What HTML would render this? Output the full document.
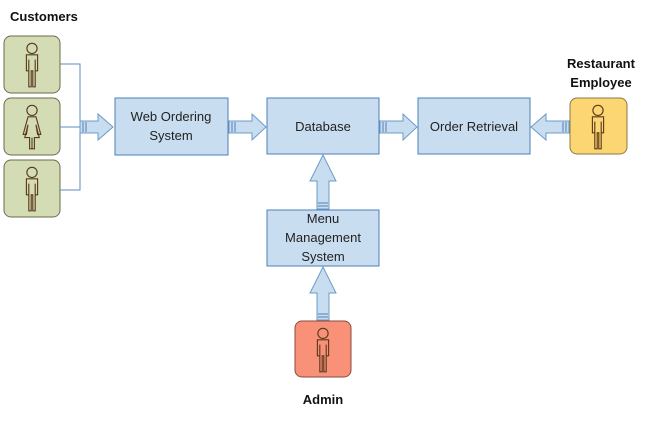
<!DOCTYPE html>
<html><head><style>body{margin:0;background:#fff}</style></head><body>
<svg width="667" height="422" viewBox="0 0 667 422" xmlns="http://www.w3.org/2000/svg" style="font-family:'Liberation Sans',sans-serif">
<defs>
<g id="man" fill="none" stroke="#5a3a1a" stroke-width="0.7">
<circle cx="0" cy="-11" r="3.2"/>
<path d="M-3.5,-7 h7 v10 h-1.5 v-7 v17 h-1.5 v-10 h-1 v10 h-1.5 v-17 v7 h-1.5 z"/>
</g>
<g id="woman" fill="none" stroke="#5a3a1a" stroke-width="0.7">
<circle cx="0" cy="-11" r="3.2"/>
<path d="M-2.5,-7 h5 l3,11 h-2 l-1,-6 l2,8 h-3 v7 h-1.5 v-7 h-0 v7 h-1.5 v-7 h-3 l2,-8 l-1,6 h-2 z"/>
</g>
</defs>
<g font-weight="bold" font-size="13" fill="#111">
<text x="10" y="21">Customers</text>
<text x="601" y="68" text-anchor="middle">Restaurant</text>
<text x="601" y="87" text-anchor="middle">Employee</text>
<text x="323" y="404" text-anchor="middle">Admin</text>
</g>
<g fill="#d3dcb4" stroke="#6b6b4a" stroke-width="1">
<rect x="4" y="36" width="56" height="57" rx="7"/>
<rect x="4" y="98" width="56" height="57" rx="7"/>
<rect x="4" y="160" width="56" height="57" rx="7"/>
</g>
<rect x="570" y="98" width="57" height="56" rx="7" fill="#fcd672" stroke="#8a7a40"/>
<rect x="295" y="321" width="56" height="56" rx="7" fill="#f89178" stroke="#8a4a3a"/>
<use href="#man" transform="translate(32,66) scale(1.6)"/>
<use href="#woman" transform="translate(32,128) scale(1.6)"/>
<use href="#man" transform="translate(32,190) scale(1.6)"/>
<use href="#man" transform="translate(598,128) scale(1.6)"/>
<use href="#man" transform="translate(323,351) scale(1.6)"/>
<path d="M60,64 H80 V190 H60 M60,127 H80" fill="none" stroke="#5b8bc0" stroke-width="1"/>
<g fill="#c8ddf0" stroke="#4e7fb5" stroke-width="1">
<rect x="115" y="98" width="113" height="57"/>
<rect x="267" y="98" width="112" height="56"/>
<rect x="418" y="98" width="112" height="56"/>
<rect x="267" y="210" width="112" height="56"/>
</g>
<g fill="#c8ddf0" stroke="#6c9bc7" stroke-width="1">
<polygon points="80,121 98,121 98,114 113,127 98,140 98,133 80,133"/>
<polygon points="229,121 252,121 252,114 266,127 252,140 252,133 229,133"/>
<polygon points="380,121 403,121 403,114 417,127 403,140 403,133 380,133"/>
<polygon points="569,121 546,121 546,114 531,127 546,140 546,133 569,133"/>
<polygon points="317,209 317,181 310,181 323,155 336,181 329,181 329,209"/>
<polygon points="317,320 317,293 310,293 323,267 336,293 329,293 329,320"/>
</g>
<g stroke="#4e7fb5" stroke-width="1">
<path d="M83,122 V132 M86,122 V132 M232,122 V132 M235,122 V132 M383,122 V132 M386,122 V132 M566,122 V132 M563,122 V132 M318,206 H328 M318,203 H328 M318,317 H328 M318,314 H328"/>
</g>
<g font-size="13" fill="#222" text-anchor="middle">
<text x="171" y="121">Web Ordering</text>
<text x="171" y="140">System</text>
<text x="323" y="131">Database</text>
<text x="474" y="131">Order Retrieval</text>
<text x="323" y="223">Menu</text>
<text x="323" y="242">Management</text>
<text x="323" y="261">System</text>
</g>
</svg>
</body></html>
